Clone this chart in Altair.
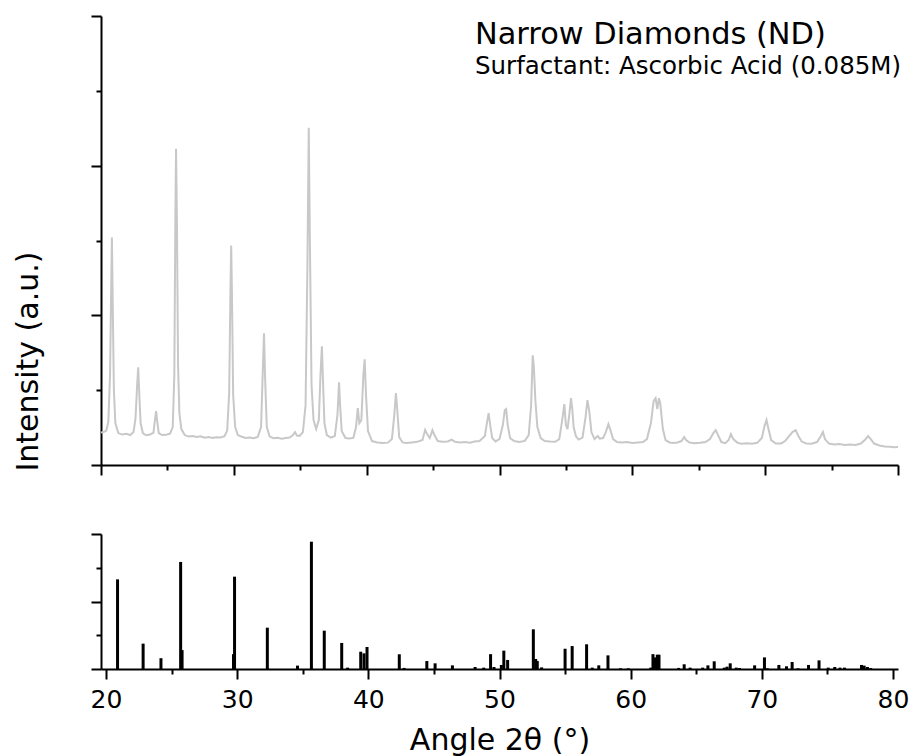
import altair as alt
import pandas as pd

FONT = "DejaVu Sans"

# Measured XRD pattern (top panel), angle in degrees 2θ, intensity in a.u.
xrd_angle = [
    20.0, 20.2, 20.4, 20.55, 20.68, 20.76, 20.82, 20.89, 20.97, 21.08, 21.3, 21.6, 21.9, 22.2,
    22.45, 22.6, 22.72, 22.8, 22.88, 22.98, 23.15, 23.4, 23.7, 23.95, 24.07, 24.15, 24.23, 24.35,
    24.6, 24.9, 25.2, 25.4, 25.52, 25.6, 25.65, 25.72, 25.8, 25.9, 26.05, 26.3, 26.6, 26.9,
    27.2, 27.5, 27.8, 28.1, 28.4, 28.7, 29.0, 29.3, 29.5, 29.65, 29.74, 29.8, 29.86, 29.95,
    30.1, 30.3, 30.6, 30.9, 31.2, 31.5, 31.8, 32.05, 32.17, 32.27, 32.36, 32.48, 32.7, 33.0,
    33.3, 33.6, 33.9, 34.2, 34.45, 34.6, 34.75, 34.95, 35.2, 35.4, 35.54, 35.64, 35.72, 35.85,
    36.0, 36.2, 36.4, 36.52, 36.63, 36.71, 36.82, 37.0, 37.3, 37.6, 37.8, 37.92, 38.0, 38.12,
    38.4, 38.7, 39.0, 39.2, 39.33, 39.45, 39.6, 39.75, 39.85, 39.95, 40.1, 40.4, 40.8, 41.2,
    41.6, 41.9, 42.08, 42.2, 42.3, 42.45, 42.7, 43.0, 43.4, 43.8, 44.2, 44.4, 44.55, 44.75,
    44.95, 45.1, 45.35, 45.7, 46.1, 46.4, 46.65, 47.0, 47.4, 47.8, 48.1, 48.5, 48.9, 49.05,
    49.18, 49.3, 49.45, 49.7, 50.0, 50.25, 50.4, 50.5, 50.62, 50.8, 51.1, 51.5, 51.9, 52.2,
    52.38, 52.5, 52.58, 52.7, 52.85, 53.1, 53.4, 53.8, 54.2, 54.5, 54.72, 54.88, 55.0, 55.12,
    55.25, 55.38, 55.48, 55.58, 55.75, 55.95, 56.25, 56.48, 56.62, 56.76, 56.92, 57.15, 57.4, 57.55,
    57.8, 58.0, 58.2, 58.35, 58.55, 58.85, 59.2, 59.6, 60.0, 60.4, 60.8, 61.1, 61.4, 61.6,
    61.75, 61.88, 62.0, 62.1, 62.3, 62.5, 62.8, 63.1, 63.4, 63.7, 63.9, 64.05, 64.3, 64.7,
    65.1, 65.5, 65.85, 66.1, 66.28, 66.45, 66.7, 67.0, 67.25, 67.42, 67.6, 67.9, 68.2, 68.6,
    69.0, 69.4, 69.75, 69.95, 70.1, 70.25, 70.45, 70.8, 71.2, 71.5, 71.8, 72.05, 72.3, 72.5,
    72.75, 73.1, 73.5, 73.9, 74.2, 74.35, 74.5, 74.8, 75.2, 75.6, 76.0, 76.4, 76.8, 77.2,
    77.5, 77.75, 77.95, 78.2, 78.6, 79.0, 79.4, 79.7, 80.0,
]
xrd_intensity = [
    325, 330, 345, 430, 900, 1700, 2280, 1550, 750, 420, 320, 305, 312, 300,
    330, 470, 800, 980, 720, 420, 320, 298, 305, 325, 460, 540, 440, 320,
    300, 302, 315, 380, 900, 2500, 3170, 2400, 1000, 520, 360, 300, 285, 290,
    280, 287, 274, 280, 272, 279, 275, 288, 345, 720, 1700, 2200, 1700, 700,
    380, 300, 283, 270, 276, 268, 282, 380, 900, 1320, 850, 380, 285, 268,
    272, 264, 270, 276, 300, 330, 295, 292, 330, 600, 2000, 3380, 2300, 800,
    450, 360, 450, 900, 1190, 850, 420, 300, 275, 290, 500, 830, 600, 340,
    270, 265, 272, 380, 570, 420, 450, 900, 1060, 700, 340, 240, 226, 220,
    224, 260, 500, 720, 560, 280, 226, 220, 226, 232, 250, 350, 310, 270,
    350, 300, 240, 232, 236, 255, 232, 226, 231, 224, 235, 240, 290, 420,
    520, 400, 270, 236, 260, 400, 550, 560, 400, 270, 240, 230, 242, 300,
    600, 1100, 1000, 650, 380, 270, 240, 235, 232, 260, 450, 610, 400, 360,
    500, 670, 560, 380, 290, 255, 275, 480, 650, 540, 330, 260, 290, 265,
    270, 330, 410, 350, 260, 230, 225, 230, 220, 226, 230, 260, 420, 640,
    670, 560, 670, 620, 360, 250, 226, 220, 226, 240, 280, 250, 225, 218,
    222, 230, 260, 320, 350, 300, 230, 218, 250, 310, 260, 225, 212, 218,
    212, 222, 270, 390, 450, 360, 250, 215, 216, 240, 290, 330, 350, 290,
    235, 216, 214, 230, 290, 330, 260, 215, 205, 210, 200, 206, 200, 215,
    250, 290, 260, 215, 195, 186, 182, 178, 180,
]

# Reference stick pattern (bottom panel), relative intensity in %
ref_angle = [
    20.88, 22.83, 24.19, 25.69, 25.80, 29.72, 29.80, 32.30, 34.60, 35.66, 36.64, 37.97, 38.42,
    39.42, 39.67, 39.90, 42.36, 42.73, 44.46, 45.09, 46.41, 48.14, 48.80, 49.32, 49.58, 50.14,
    50.33, 50.62, 52.58, 52.76, 52.88, 53.21, 55.00, 55.54, 56.64, 57.07, 57.57, 58.27, 59.22,
    59.82, 61.53, 61.70, 61.86, 62.03, 62.16, 63.66, 64.08, 64.53, 65.49, 65.89, 66.37, 67.14,
    67.35, 67.59, 68.05, 68.30, 69.45, 70.20, 70.42, 71.30, 71.88, 72.31, 72.76, 73.56, 74.36,
    75.06, 75.56, 75.96, 76.30, 77.60, 77.80, 78.05, 78.30,
]
ref_intensity = [
    66.4, 18.8, 8.0, 79.3, 14.0, 11.0, 68.4, 30.6, 2.5, 94.3, 28.4, 19.3, 1.0,
    12.8, 11.6, 16.3, 10.9, 0.8, 5.9, 4.2, 2.7, 1.5, 1.0, 11.0, 1.5, 3.0,
    13.6, 6.7, 29.4, 7.4, 5.9, 1.2, 15.0, 17.0, 18.3, 1.0, 2.7, 10.1, 0.5,
    0.5, 1.0, 11.0, 8.6, 10.6, 10.6, 0.8, 3.5, 1.0, 1.0, 2.7, 5.7, 1.0,
    1.7, 4.2, 1.0, 0.7, 2.7, 8.6, 0.5, 3.0, 2.0, 5.2, 0.5, 3.0, 6.4,
    1.0, 1.5, 1.0, 1.0, 3.0, 2.5, 1.5, 0.7,
]

x_ticks = [20, 25, 30, 35, 40, 45, 50, 55, 60, 65, 70, 75, 80]
top_y_ticks = [0, 750, 1500, 2250, 3000, 3750, 4500]
bottom_y_ticks = [0, 25, 50, 75, 100]

xrd = pd.DataFrame({"angle": xrd_angle, "intensity": xrd_intensity})
ref = pd.DataFrame({"angle": ref_angle, "intensity": ref_intensity})

axis_style = dict(domainColor="black", domainWidth=2, tickColor="black", tickWidth=2, grid=False)


def major_minor(test):
    return {"condition": {"test": test, "value": 10}, "value": 5}


x_scale = alt.Scale(domain=[20, 80], nice=False, zero=False)

top = alt.Chart(xrd).mark_line(color="#c8c8c8", strokeWidth=2, clip=True).encode(
    x=alt.X("angle:Q", scale=x_scale,
            axis=alt.Axis(values=x_ticks, labels=False, title=None,
                          tickSize=major_minor("datum.value % 10 === 0"), **axis_style)),
    y=alt.Y("intensity:Q", scale=alt.Scale(domain=[0, 4500], nice=False),
            axis=alt.Axis(values=top_y_ticks, labels=False, title="Intensity (a.u.)",
                          titleFont=FONT, titleFontSize=30, titleFontWeight="normal",
                          titleColor="black", titleX=-58, titleY=345,
                          tickSize=major_minor("datum.value % 1500 === 0"), **axis_style)),
).properties(
    width=797, height=449,
    title=alt.TitleParams(
        text="Narrow Diamonds (ND)",
        subtitle="Surfactant: Ascorbic Acid (0.085M)",
        anchor="start", frame="group", dx=374, offset=-63,
        font=FONT, fontSize=30.4, fontWeight="normal", color="black",
        subtitleFont=FONT, subtitleFontSize=24.5, subtitleColor="black",
        subtitlePadding=4,
    ),
)

bottom = alt.Chart(ref).mark_bar(size=3, color="black").encode(
    x=alt.X("angle:Q", scale=x_scale,
            axis=alt.Axis(values=x_ticks, labelExpr="datum.value % 10 === 0 ? datum.label : ''",
                          labelFont=FONT, labelFontSize=25, labelColor="black", labelPadding=8,
                          labelOverlap=False, labelFlush=False,
                          title="Angle 2θ (°)", titleFont=FONT, titleFontSize=30,
                          titleFontWeight="normal", titleColor="black", titlePadding=13,
                          tickSize=major_minor("datum.value % 10 === 0"), **axis_style)),
    y=alt.Y("intensity:Q", scale=alt.Scale(domain=[0, 100], nice=False),
            axis=alt.Axis(values=bottom_y_ticks, labels=False, title=None,
                          tickSize=major_minor("datum.value % 50 === 0"), **axis_style)),
).properties(width=797, height=135)

chart = alt.vconcat(top, bottom, spacing=69, bounds="flush").properties(
    padding={"left": 5, "top": 7, "right": 0, "bottom": 2}
).configure(font=FONT).configure_view(strokeWidth=0)

chart.save("out.html", embed_options={"renderer": "svg", "actions": False})
